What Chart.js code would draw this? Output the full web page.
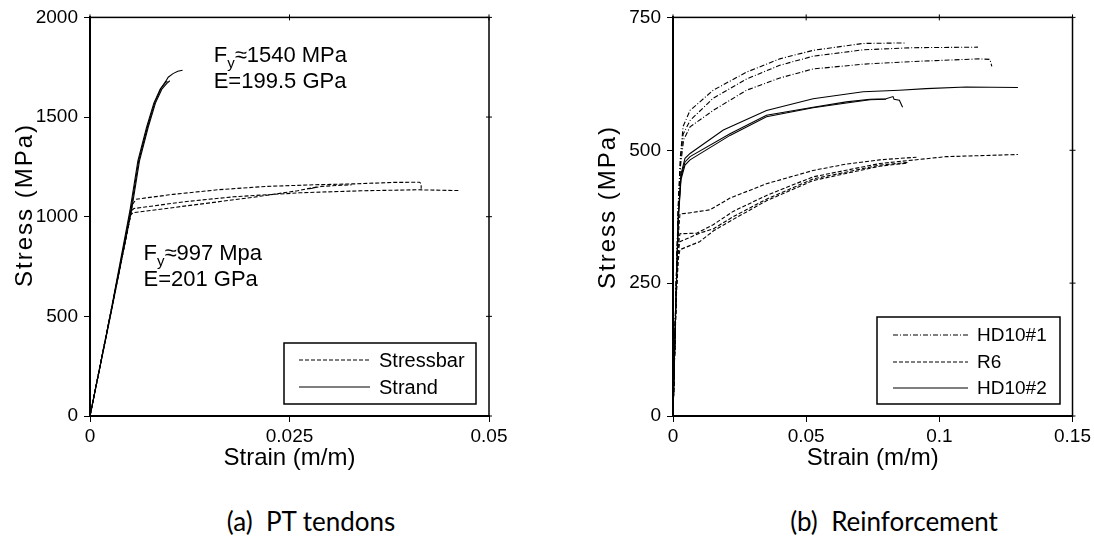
<!DOCTYPE html>
<html><head><meta charset="utf-8">
<script src="https://cdn.jsdelivr.net/npm/chart.js@4.4.0/dist/chart.umd.min.js"></script>
<style>
html,body{margin:0;padding:0;background:#fff;}
#wrap{position:relative;width:1094px;height:548px;overflow:hidden;background:#fff;}
canvas{position:absolute;top:0;}
#cA{left:0;} #cB{left:547px;}
.cap{position:absolute;font-family:Lato,'Open Sans',sans-serif;font-size:26px;color:#000;white-space:pre;transform:translate(-50%,-50%);line-height:1;}
</style></head><body>
<div id="wrap">
<canvas id="cA" width="547" height="480"></canvas>
<canvas id="cB" width="547" height="480"></canvas>
<div class="cap" style="left:311px;top:521px">(a)  PT tendons</div>
<div class="cap" style="left:894px;top:521px">(b)  Reinforcement</div>
</div>
<script>
// ---------- Tick values / labels ----------
const ptXTicks = [0, 0.025, 0.05];
const ptXLabels = ['0', '0.025', '0.05'];
const ptYTicks = [0, 500, 1000, 1500, 2000];
const ptYLabels = ['0', '500', '1000', '1500', '2000'];
const rfXTicks = [0, 0.05, 0.1, 0.15];
const rfXLabels = ['0', '0.05', '0.1', '0.15'];
const rfYTicks = [0, 250, 500, 750];
const rfYLabels = ['0', '250', '500', '750'];

// ---------- (a) PT tendons: [strain, stress MPa] ----------
const strandA = [[0,0],[0.0025,500],[0.005,1030],[0.006,1280],[0.0071,1450],[0.008,1570],[0.0088,1640],[0.0094,1670],[0.0097,1680]];
const strandB = [[0,0],[0.0025,490],[0.0052,1030],[0.0062,1280],[0.0073,1450],[0.0082,1570],[0.009,1640],[0.0096,1668],[0.01,1682]];
const strandC = [[0,0],[0.0025,495],[0.0051,1030],[0.0061,1280],[0.0072,1450],[0.0081,1570],[0.0089,1645],[0.0095,1680],[0.0098,1700],[0.0104,1718],[0.011,1730],[0.0116,1735]];
const stressbarA = [[0,0],[0.0027,540],[0.0053,1060],[0.0058,1088],[0.0104,1112],[0.016,1135],[0.0221,1152],[0.028,1160],[0.0333,1165],[0.038,1172],[0.0413,1173],[0.0415,1165],[0.0415,1140]];
const stressbarB = [[0,0],[0.0026,520],[0.0052,1030],[0.0055,1041],[0.0118,1075],[0.018,1100],[0.0263,1120],[0.034,1130],[0.041,1135],[0.0464,1131]];
const stressbarC = [[0,0],[0.0026,515],[0.0051,1010],[0.0054,1020],[0.0128,1058],[0.02,1095],[0.026,1130],[0.0275,1142],[0.0285,1150],[0.0275,1140],[0.029,1152],[0.0315,1158],[0.0328,1160]];

// ---------- (b) Reinforcement: [strain, stress MPa] ----------
const hd1A = [[0,0],[0.0012,250],[0.002,400],[0.0028,490],[0.0038,545],[0.0064,575],[0.0151,613],[0.0276,647],[0.0401,672],[0.0526,688],[0.0714,701],[0.0876,702]];
const hd1B = [[0,0],[0.0012,250],[0.002,395],[0.0028,480],[0.0038,530],[0.0064,556],[0.0151,598],[0.0276,634],[0.0401,660],[0.0526,677],[0.0714,689],[0.09,693],[0.1145,694]];
const hd1C = [[0,0],[0.0012,250],[0.002,390],[0.0028,470],[0.004,520],[0.0064,544],[0.0151,575],[0.0276,613],[0.0401,636],[0.0526,653],[0.0714,662],[0.09,667],[0.1151,672],[0.119,671],[0.1197,658]];
const r6A = [[0,0],[0.0012,230],[0.002,340],[0.0026,380],[0.006,382],[0.0139,388],[0.0214,410],[0.0351,437],[0.0526,462],[0.0651,474],[0.0776,482],[0.0914,487]];
const r6B = [[0,0],[0.0012,230],[0.002,320],[0.0026,343],[0.0089,344],[0.0151,360],[0.0226,385],[0.0351,415],[0.0526,450],[0.0776,475],[0.1026,488],[0.1295,492]];
const r6C = [[0,0],[0.0012,230],[0.002,310],[0.0026,328],[0.01,344],[0.0151,352],[0.0226,375],[0.0351,408],[0.0526,446],[0.0776,472],[0.088,477]];
const r6D = [[0,0],[0.0012,220],[0.002,295],[0.0026,313],[0.01,328],[0.0151,348],[0.0226,370],[0.0351,405],[0.0526,443],[0.0776,470],[0.088,476]];
const hd2A = [[0,0],[0.001,200],[0.002,380],[0.003,455],[0.0045,485],[0.0064,494],[0.0189,538],[0.0351,575],[0.0526,597],[0.0714,610],[0.085,613],[0.095,616],[0.11,619],[0.1295,618]];
const hd2B = [[0,0],[0.001,200],[0.002,375],[0.003,450],[0.0045,478],[0.0064,488],[0.0214,531],[0.0351,566],[0.0526,581],[0.0651,591],[0.074,596],[0.08,597],[0.0826,601],[0.083,596],[0.085,594],[0.0862,581]];
const hd2C = [[0,0],[0.001,200],[0.002,370],[0.003,445],[0.0045,472],[0.0064,482],[0.0214,528],[0.0351,563],[0.0526,580],[0.0651,589],[0.074,595],[0.08,596]];

// ---------- styles ----------
const FONT = "'Liberation Sans', Arial, sans-serif";
const SOLID = [];
const DASH = [4, 2];
const DASHDOT = [5, 2, 1, 2];

function ds(arr, dash) {
  return {
    data: arr.map(p => ({x: p[0], y: p[1]})),
    showLine: true, pointRadius: 0, borderColor: '#000', borderWidth: 1.1,
    borderDash: dash, fill: false, tension: 0
  };
}

function drawRich(ctx, parts, x, y, size) {
  let cx = x;
  parts.forEach(p => {
    if (p.sub) {
      ctx.font = Math.round(size * 0.68) + 'px ' + FONT;
      ctx.fillText(p.t, cx, y + size * 0.25);
    } else {
      ctx.font = size + 'px ' + FONT;
      ctx.fillText(p.t, cx, y);
    }
    cx += ctx.measureText(p.t).width;
  });
}

const framePlugin = {
  id: 'frame',
  afterDraw(chart, args, o) {
    const {ctx, chartArea: ca, scales: {x, y}} = chart;
    ctx.save();
    ctx.strokeStyle = '#000';
    ctx.fillStyle = '#000';
    ctx.lineWidth = 1.5;
    ctx.setLineDash([]);
    ctx.strokeRect(ca.left, ca.top, ca.right - ca.left, ca.bottom - ca.top);
    ctx.lineWidth = 1;
    ctx.beginPath();
    x.ticks.forEach(t => { const px = x.getPixelForValue(t.value); ctx.moveTo(px, ca.top - 3); ctx.lineTo(px, ca.top + 3); });
    y.ticks.forEach(t => { const py = y.getPixelForValue(t.value); ctx.moveTo(ca.right - 3, py); ctx.lineTo(ca.right + 3, py); });
    ctx.stroke();
    // y axis title
    ctx.save();
    ctx.translate(o.yTitle.x, o.yTitle.y);
    ctx.rotate(-Math.PI / 2);
    ctx.font = o.yTitle.size + 'px ' + FONT;
    if ('letterSpacing' in ctx) ctx.letterSpacing = o.yTitle.spacing + 'px';
    ctx.textAlign = 'center';
    ctx.textBaseline = 'middle';
    ctx.fillText(o.yTitle.text, 0, 0);
    ctx.restore();
    // legend
    const L = o.legend;
    ctx.lineWidth = 1.5;
    ctx.strokeRect(L.box[0], L.box[1], L.box[2], L.box[3]);
    ctx.font = L.size + 'px ' + FONT;
    ctx.textBaseline = 'middle';
    ctx.textAlign = 'left';
    L.items.forEach((it, i) => {
      const yy = L.rowY[i];
      ctx.beginPath();
      ctx.lineWidth = 1.1;
      ctx.setLineDash(it.dash);
      ctx.moveTo(L.lineX[0], yy); ctx.lineTo(L.lineX[1], yy);
      ctx.stroke();
      ctx.setLineDash([]);
      ctx.fillText(it.label, L.textX, yy + 1);
    });
    // notes
    ctx.textBaseline = 'alphabetic';
    (o.notes || []).forEach(n => {
      const px = x.getPixelForValue(n.x), py = y.getPixelForValue(n.y);
      drawRich(ctx, n.parts, px, py, n.size);
    });
    ctx.restore();
  }
};

function makeChart(id, cfg) {
  const tickFont = {family: FONT, size: 19};
  return new Chart(document.getElementById(id), {
    type: 'scatter',
    data: {datasets: cfg.datasets},
    plugins: [framePlugin],
    options: {
      responsive: false, animation: false, devicePixelRatio: 1,
      layout: {padding: {left: cfg.padLeft, right: cfg.padRight, top: 17, bottom: 0}},
      plugins: {legend: {display: false}, tooltip: {enabled: false}, frame: cfg.frame},
      scales: {
        x: {
          type: 'linear', min: cfg.xTicks[0], max: cfg.xTicks[cfg.xTicks.length - 1],
          afterBuildTicks: s => { s.ticks = cfg.xTicks.map(v => ({value: v})); },
          afterFit: s => { s.height = 64; },
          ticks: {font: tickFont, color: '#000', padding: 3, maxRotation: 0, autoSkip: false,
                  callback: (v, i) => cfg.xLabels[i]},
          grid: {display: true, drawOnChartArea: false, drawTicks: true, tickLength: 6, color: '#000', lineWidth: 1},
          border: {display: true, color: '#000', width: 2},
          title: {display: true, text: 'Strain (m/m)', color: '#000', font: {family: FONT, size: 24}, padding: {top: 0, bottom: 7}}
        },
        y: {
          type: 'linear', min: cfg.yTicks[0], max: cfg.yTicks[cfg.yTicks.length - 1],
          afterBuildTicks: s => { s.ticks = cfg.yTicks.map(v => ({value: v})); },
          afterFit: s => { s.width = 90; },
          ticks: {font: tickFont, color: '#000', padding: 6, autoSkip: false,
                  callback: (v, i) => cfg.yLabels[i]},
          grid: {display: true, drawOnChartArea: false, drawTicks: true, tickLength: 6, color: '#000', lineWidth: 1},
          border: {display: true, color: '#000', width: 2},
          title: {display: false}
        }
      }
    }
  });
}

makeChart('cA', {
  padLeft: 0, padRight: 58,
  xTicks: ptXTicks, xLabels: ptXLabels, yTicks: ptYTicks, yLabels: ptYLabels,
  datasets: [ds(stressbarA, DASH), ds(stressbarB, DASH), ds(stressbarC, DASH),
             ds(strandA, SOLID), ds(strandB, SOLID), ds(strandC, SOLID)],
  frame: {
    yTitle: {text: 'Stress (MPa)', x: 25, y: 205, size: 24, spacing: 2},
    legend: {box: [284, 343, 192, 61], lineX: [299, 370], textX: 379, rowY: [360, 387], size: 20,
             items: [{label: 'Stressbar', dash: DASH}, {label: 'Strand', dash: SOLID}]},
    notes: [
      {x: 0.0155, y: 1774, size: 22, parts: [{t: 'F'}, {t: 'y', sub: true}, {t: '\u22481540 MPa'}]},
      {x: 0.0155, y: 1647, size: 22, parts: [{t: 'E=199.5 GPa'}]},
      {x: 0.0067, y: 782, size: 22, parts: [{t: 'F'}, {t: 'y', sub: true}, {t: '\u2248997 Mpa'}]},
      {x: 0.0067, y: 652, size: 22, parts: [{t: 'E=201 GPa'}]}
    ]
  }
});

makeChart('cB', {
  padLeft: 36, padRight: 21,
  xTicks: rfXTicks, xLabels: rfXLabels, yTicks: rfYTicks, yLabels: rfYLabels,
  datasets: [ds(hd1A, DASHDOT), ds(hd1B, DASHDOT), ds(hd1C, DASHDOT),
             ds(r6A, DASH), ds(r6B, DASH), ds(r6C, DASH), ds(r6D, DASH),
             ds(hd2A, SOLID), ds(hd2B, SOLID), ds(hd2C, SOLID)],
  frame: {
    yTitle: {text: 'Stress (MPa)', x: 61, y: 207, size: 24, spacing: 2},
    legend: {box: [330, 317, 183, 87], lineX: [346, 421], textX: 430, rowY: [335, 362, 388], size: 19,
             items: [{label: 'HD10#1', dash: DASHDOT}, {label: 'R6', dash: DASH}, {label: 'HD10#2', dash: SOLID}]},
    notes: []
  }
});
</script>
</body></html>
